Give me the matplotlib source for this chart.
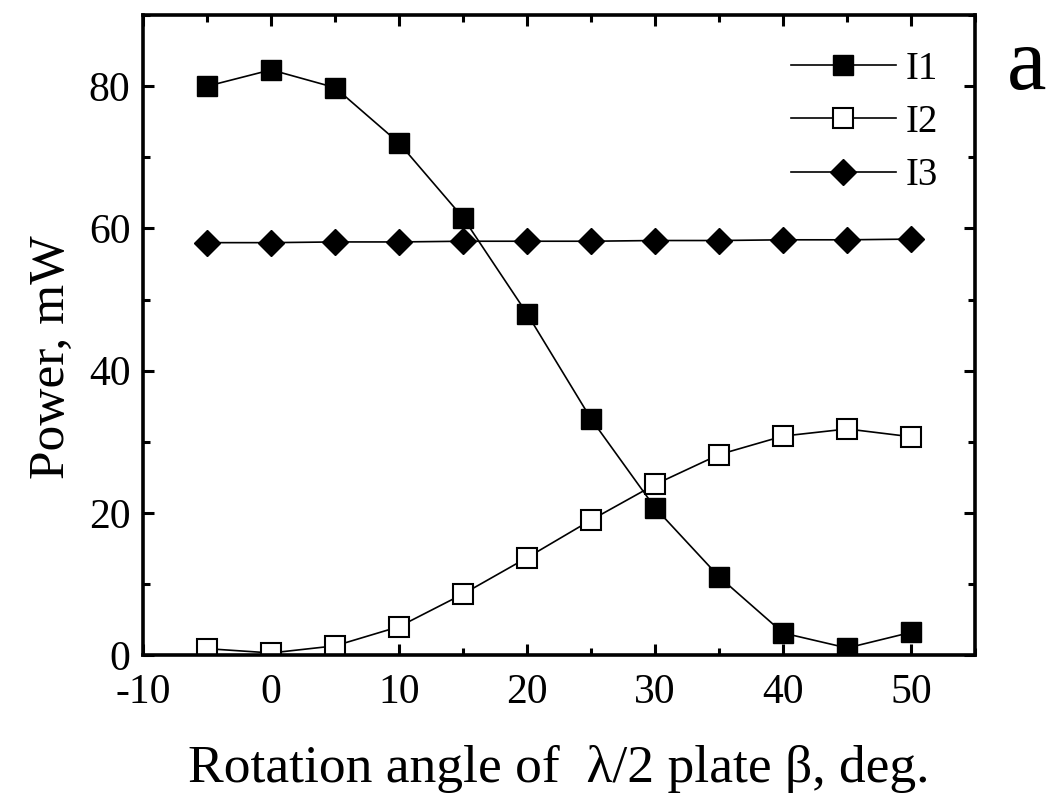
import matplotlib.pyplot as plt
from matplotlib.ticker import MultipleLocator

plt.rcParams['font.family'] = ['Liberation Serif', 'DejaVu Serif']
plt.rcParams['axes.unicode_minus'] = False

angle = [-5, 0, 5, 10, 15, 20, 25, 30, 35, 40, 45, 50]
i1 = [80.0, 82.3, 79.8, 72.0, 61.5, 48.0, 33.2, 20.7, 11.0, 3.1, 1.0, 3.2]
i2 = [0.9, 0.3, 1.3, 4.0, 8.6, 13.7, 19.0, 24.0, 28.2, 30.8, 31.8, 30.7]
i3 = [58.0, 58.0, 58.1, 58.1, 58.2, 58.2, 58.2, 58.3, 58.3, 58.4, 58.4, 58.5]

fig = plt.figure(figsize=(10.52, 7.95), dpi=100)
ax = fig.add_axes([0.136, 0.176, 0.791, 0.805])

ax.plot(angle, i1, '-s', color='black', lw=1.2, ms=14.5, mfc='black', mec='black', label='I1')
ax.plot(angle, i2, '-s', color='black', lw=1.2, ms=14, mfc='white', mec='black', mew=1.5, label='I2')
ax.plot(angle, i3, '-D', color='black', lw=1.2, ms=13.5, mfc='black', mec='black', label='I3')

ax.set_xlim(-10, 55)
ax.set_ylim(0, 90)
ax.xaxis.set_major_locator(MultipleLocator(10))
ax.xaxis.set_minor_locator(MultipleLocator(5))
ax.yaxis.set_major_locator(MultipleLocator(20))
ax.yaxis.set_minor_locator(MultipleLocator(10))
ax.tick_params(which='both', direction='in', top=True, right=True, width=2.2, labelsize=30)
ax.tick_params(which='major', length=8)
ax.tick_params(which='minor', length=5)
ax.tick_params(axis='x', which='both', pad=13)
ax.tick_params(axis='y', which='both', pad=9)
for s in ax.spines.values():
    s.set_linewidth(2.6)

ax.set_xlabel('Rotation angle of  λ/2 plate β, deg.', fontsize=38.5, labelpad=24)
ax.set_ylabel('Power, mW', fontsize=37)
ax.yaxis.set_label_coords(-0.082, 0.466)

ax.legend(loc='upper right', frameon=False, fontsize=28, handlelength=2.7,
          labelspacing=0.42, borderaxespad=0.35, handletextpad=0.25,
          bbox_to_anchor=(0.99, 0.99))

fig.text(0.995, 0.915, 'a', fontsize=64, ha='right', va='center')

fig.savefig('out.png', dpi=100)
